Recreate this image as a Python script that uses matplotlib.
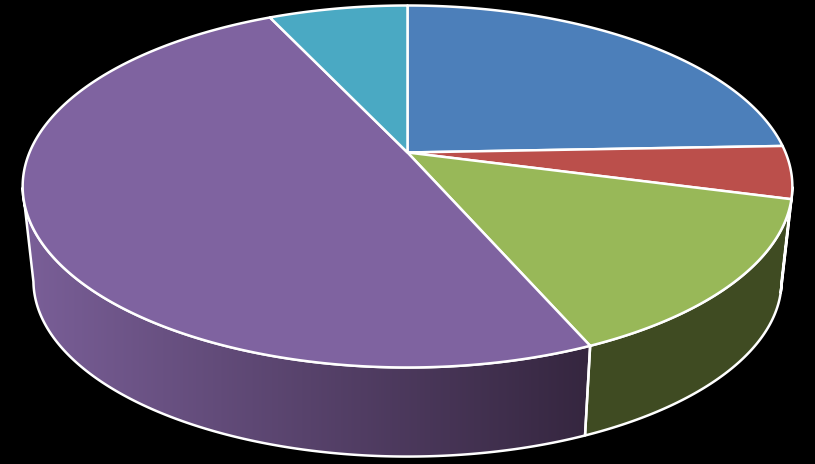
import numpy as np
import matplotlib
matplotlib.use("Agg")
import matplotlib.pyplot as plt
from matplotlib.patches import Polygon

categories = ["A", "B", "C", "D", "E"]
values = [24.4, 4.7, 14.35, 49.55, 7.0]
top_colors = ["#4c7fba", "#bb4f4b", "#98b858", "#7f63a0", "#4aa9c3"]
side_colors = ["#2a4666", "#6b2c2a", "#3f4b22", "#7a5f98", "#2a6070"]

W, H = 815, 464
fig = plt.figure(figsize=((W + 0.01) / 100, (H + 0.01) / 100), dpi=100, facecolor="black")
ax = fig.add_axes([0, 0, 1, 1])
ax.set_xlim(0, W)
ax.set_ylim(H, 0)
ax.axis("off")

CX, CY, A, B, C = 407.5, 152.5, 378.0, 174.6, 0.1878
S, BY = 0.972, 247.6


def project(theta, cy=CY, s=1.0):
    X, Y = np.cos(theta), np.sin(theta)
    d = 1 + C * Y
    return CX + s * A * X / d, cy - s * B * Y / d


fr = np.cumsum([0] + values) / sum(values)
edges = np.pi / 2 - 2 * np.pi * fr

# side walls: only the front part of the rim is visible
for i in range(len(values)):
    t = np.linspace(edges[i], edges[i + 1], 400)
    xt, yt = project(t)
    xb, yb = project(t, BY, S)
    vis = np.sin(t) < -0.19
    if not vis.any():
        continue
    xt, yt, xb, yb = xt[vis], yt[vis], xb[vis], yb[vis]
    poly = Polygon(np.r_[np.c_[xt, yt], np.c_[xb, yb][::-1]], closed=True,
                   fc=side_colors[i], ec="none", zorder=1)
    ax.add_patch(poly)
    if categories[i] == "D":
        grad = np.linspace(0, 1, 560)[None, :, None]
        c0 = np.array(matplotlib.colors.to_rgb("#7a5f98"))
        c1 = np.array(matplotlib.colors.to_rgb("#35263f"))
        img = c0 + (c1 - c0) * grad
        im = ax.imshow(img, extent=(24, 588, H, 0), aspect="auto", zorder=1.5)
        im.set_clip_path(poly)
        ax.set_xlim(0, W)
        ax.set_ylim(H, 0)
    ax.add_patch(Polygon(np.r_[np.c_[xt, yt], np.c_[xb, yb][::-1]], closed=True,
                         fc="none", ec="white", lw=1.8, joinstyle="round", zorder=2))

# top faces
for i in range(len(values)):
    t = np.linspace(edges[i], edges[i + 1], 300)
    x, y = project(t)
    pts = np.r_[[[CX, CY]], np.c_[x, y]]
    ax.add_patch(Polygon(pts, closed=True, fc=top_colors[i], ec="white",
                         lw=1.8, joinstyle="round", zorder=3))

fig.savefig("out.png", dpi=100, facecolor="black")
